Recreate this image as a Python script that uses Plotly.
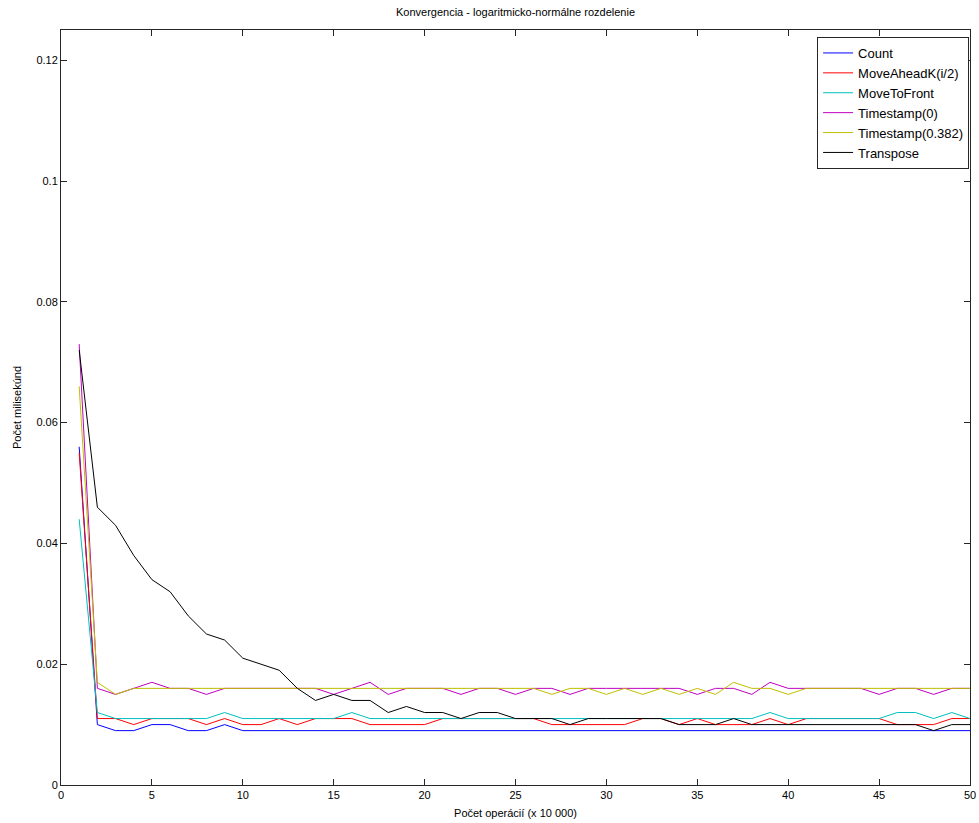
import plotly.graph_objects as go

# Number of operations (x 10 000)
operations = list(range(1, 51))

count = [0.056, 0.010, 0.009, 0.009, 0.010, 0.010, 0.009, 0.009, 0.010, 0.009] + [0.009] * 40

move_ahead_k = [0.055, 0.011, 0.011, 0.010, 0.011, 0.011, 0.011, 0.010, 0.011, 0.010,
                0.010, 0.011, 0.010, 0.011, 0.011, 0.011, 0.010, 0.010, 0.010, 0.010,
                0.011, 0.011, 0.011, 0.011, 0.011, 0.011, 0.010, 0.010, 0.010, 0.010,
                0.010, 0.011, 0.011, 0.010, 0.011, 0.010, 0.010, 0.010, 0.011, 0.010,
                0.011, 0.011, 0.011, 0.011, 0.011, 0.010, 0.010, 0.010, 0.011, 0.011]

move_to_front = [0.044, 0.012, 0.011, 0.011, 0.011, 0.011, 0.011, 0.011, 0.012, 0.011,
                 0.011, 0.011, 0.011, 0.011, 0.011, 0.012, 0.011, 0.011, 0.011, 0.011,
                 0.011, 0.011, 0.011, 0.011, 0.011, 0.011, 0.011, 0.011, 0.011, 0.011,
                 0.011, 0.011, 0.011, 0.011, 0.011, 0.011, 0.011, 0.011, 0.012, 0.011,
                 0.011, 0.011, 0.011, 0.011, 0.011, 0.012, 0.012, 0.011, 0.012, 0.011]

timestamp_0 = [0.073, 0.016, 0.015, 0.016, 0.017, 0.016, 0.016, 0.015, 0.016, 0.016,
               0.016, 0.016, 0.016, 0.016, 0.015, 0.016, 0.017, 0.015, 0.016, 0.016,
               0.016, 0.015, 0.016, 0.016, 0.015, 0.016, 0.016, 0.015, 0.016, 0.016,
               0.016, 0.016, 0.016, 0.016, 0.015, 0.016, 0.016, 0.015, 0.017, 0.016,
               0.016, 0.016, 0.016, 0.016, 0.015, 0.016, 0.016, 0.015, 0.016, 0.016]

timestamp_0382 = [0.066, 0.017, 0.015, 0.016, 0.016, 0.016, 0.016, 0.016, 0.016, 0.016,
                  0.016, 0.016, 0.016, 0.016, 0.016, 0.016, 0.016, 0.016, 0.016, 0.016,
                  0.016, 0.016, 0.016, 0.016, 0.016, 0.016, 0.015, 0.016, 0.016, 0.015,
                  0.016, 0.015, 0.016, 0.015, 0.016, 0.015, 0.017, 0.016, 0.016, 0.015,
                  0.016, 0.016, 0.016, 0.016, 0.016, 0.016, 0.016, 0.016, 0.016, 0.016]

transpose = [0.072, 0.046, 0.043, 0.038, 0.034, 0.032, 0.028, 0.025, 0.024, 0.021,
             0.020, 0.019, 0.016, 0.014, 0.015, 0.014, 0.014, 0.012, 0.013, 0.012,
             0.012, 0.011, 0.012, 0.012, 0.011, 0.011, 0.011, 0.010, 0.011, 0.011,
             0.011, 0.011, 0.011, 0.010, 0.010, 0.010, 0.011, 0.010, 0.010, 0.010,
             0.010, 0.010, 0.010, 0.010, 0.010, 0.010, 0.010, 0.009, 0.010, 0.010]

series = [
    ("Count", count, "#0000ff"),
    ("MoveAheadK(i/2)", move_ahead_k, "#ff0000"),
    ("MoveToFront", move_to_front, "#00bfbf"),
    ("Timestamp(0)", timestamp_0, "#bf00bf"),
    ("Timestamp(0.382)", timestamp_0382, "#bfbf00"),
    ("Transpose", transpose, "#000000"),
]

x_ticks = [0, 5, 10, 15, 20, 25, 30, 35, 40, 45, 50]
y_ticks = [0, 0.02, 0.04, 0.06, 0.08, 0.1, 0.12]

FONT = "Liberation Sans, Arial, sans-serif"

fig = go.Figure()
for name, values, color in series:
    fig.add_trace(go.Scatter(
        x=operations, y=values, name=name, mode="lines",
        line=dict(color=color, width=1),
    ))

axis_style = dict(
    showline=True, linecolor="#262626", linewidth=1, mirror="ticks",
    ticks="inside", ticklen=6, tickcolor="#262626", tickwidth=1,
    showgrid=False, zeroline=False, automargin=False,
    tickfont=dict(family=FONT, size=11, color="#000000"),
)

fig.update_layout(
    template="none",
    width=979, height=823,
    margin=dict(l=61, r=9, t=30, b=38, autoexpand=False),
    paper_bgcolor="white", plot_bgcolor="white",
    font=dict(family=FONT, size=11, color="#000000"),
    title=dict(
        text="Konvergencia - logaritmicko-normálne rozdelenie",
        x=(61 + 970) / 2 / 979, xanchor="center",
        y=1 - 12 / 823, yanchor="middle",
        font=dict(family=FONT, size=11),
    ),
    xaxis=dict(
        range=[0, 50], tickvals=x_ticks,
        title=dict(text="Počet operácií (x 10 000)", standoff=9,
                   font=dict(family=FONT, size=11)),
        **axis_style,
    ),
    yaxis=dict(
        range=[0, 0.125], tickvals=y_ticks,
        title=dict(text="Počet milisekúnd", standoff=12,
                   font=dict(family=FONT, size=11)),
        **axis_style,
    ),
    legend=dict(
        x=0.999, xanchor="right", y=1 - 7 / 755, yanchor="top",
        bgcolor="white", bordercolor="#262626", borderwidth=1,
        font=dict(family=FONT, size=13), tracegroupgap=0,
        itemwidth=30,
    ),
    showlegend=True,
)

fig.write_html("out.html")
